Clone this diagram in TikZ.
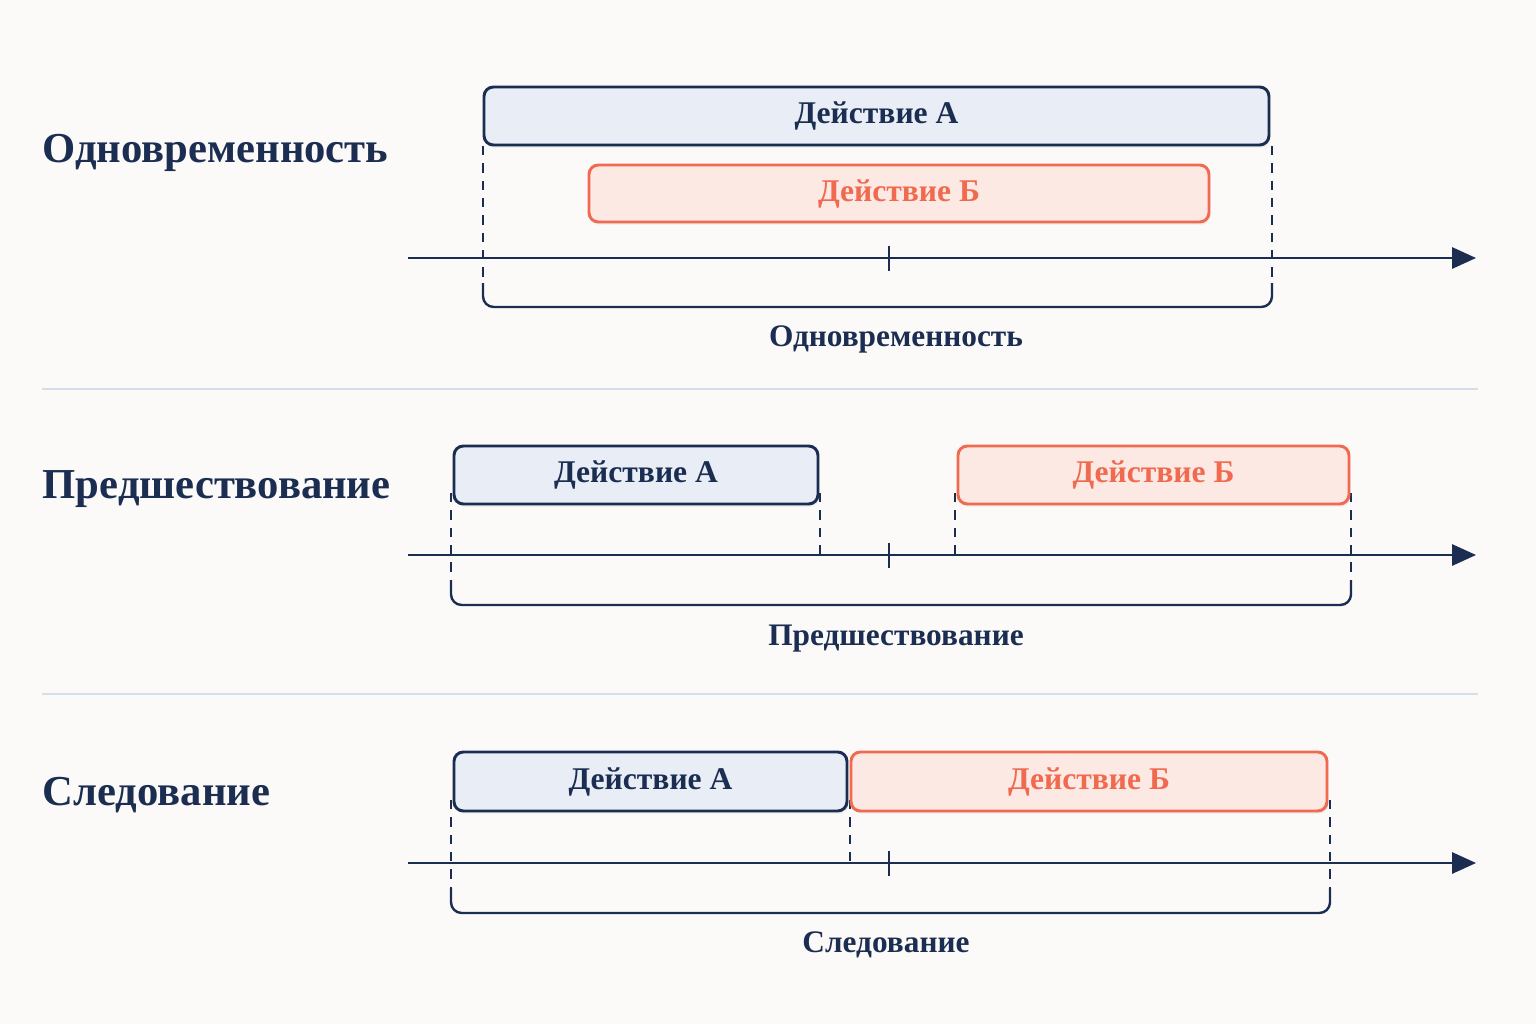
\documentclass[tikz,border=0pt]{standalone}
\usepackage{fontspec}
\setmainfont{Liberation Serif}
\usetikzlibrary{arrows.meta,shadows}
\definecolor{navy}{HTML}{1B2E52}
\definecolor{afill}{HTML}{E9EDF5}
\definecolor{orng}{HTML}{F06A50}
\definecolor{bfill}{HTML}{FDE9E3}
\definecolor{bg}{HTML}{FBFAF8}
\definecolor{sep}{HTML}{D5DEEA}
\begin{document}
\begin{tikzpicture}[x=0.75pt,y=-0.75pt,
 bx/.style 2 args={minimum width={(#1-2)*0.75pt},minimum height={(#2-2)*0.75pt},inner sep=0pt,outer sep=0pt},
 boxA/.style={draw=navy,fill=afill,line width=2.2pt,rounded corners=7pt,text=navy,font=\fontsize{23.7}{26}\selectfont\bfseries,drop shadow={opacity=0.12,shadow xshift=1pt,shadow yshift=-2pt}},
 boxB/.style={draw=orng,fill=bfill,line width=2.2pt,rounded corners=7pt,text=orng,font=\fontsize{23.7}{26}\selectfont\bfseries,drop shadow={opacity=0.12,shadow xshift=1pt,shadow yshift=-2pt}},
 title/.style={anchor=west,text=navy,font=\fontsize{32}{35}\selectfont\bfseries},
 lab/.style={text=navy,font=\fontsize{23.5}{26}\selectfont\bfseries},
 axis/.style={draw=navy,line width=1.6pt,-{Triangle[length=18pt,width=16pt]}},
 tick/.style={draw=navy,line width=1.6pt},
 dsh/.style={draw=navy,line width=1.4pt,dash pattern=on 7pt off 6pt},
 brace/.style={draw=navy,line width=1.8pt,rounded corners=8pt}]
\fill[bg] (0,0) rectangle (1536,1024);
\useasboundingbox (0,0) rectangle (1536,1024);
\draw[sep,line width=1.2pt] (42,389) -- (1478,389);
\draw[sep,line width=1.2pt] (42,694) -- (1478,694);
% Section 1
\node[title] (t1) at (38,153) {Одновременность};
\coordinate (s1) at (408,258); \coordinate (e1) at (1476,258);
\draw[axis] (s1) -- (e1);
\coordinate (k1) at (889,246); \coordinate (k1b) at (889,271);
\draw[tick] (k1) -- (k1b);
\draw[dsh] (483,146) -- (483,283);
\draw[dsh] (1272,146) -- (1272,283);
\draw[brace] (483,283) -- (483,307) -- (1272,307) -- (1272,283);
\node[boxB,bx={622}{59}] (b1) at (899,193.5) {Действие Б};
\node[boxA,bx={787}{60}] (a1) at (876.5,116) {Действие А};
\node[lab] (l1) at (896,339) {Одновременность};
% Section 2
\node[title] (t2) at (38,489) {Предшествование};
\coordinate (s2) at (408,555); \coordinate (e2) at (1476,555);
\draw[axis] (s2) -- (e2);
\draw[tick] (889,543) -- (889,568);
\draw[dsh] (451,493) -- (451,580);
\draw[dsh] (820,493) -- (820,555);
\draw[dsh] (955,493) -- (955,555);
\draw[dsh] (1351,493) -- (1351,580);
\draw[brace] (451,580) -- (451,605) -- (1351,605) -- (1351,580);
\node[boxA,bx={366}{60}] (a2) at (636,475) {Действие А};
\node[boxB,bx={393}{60}] (b2) at (1153.5,475) {Действие Б};
\node[lab] (l2) at (896,639) {Предшествование};
% Section 3
\node[title] (t3) at (38,795) {Следование};
\coordinate (s3) at (408,863); \coordinate (e3) at (1476,863);
\draw[axis] (s3) -- (e3);
\draw[tick] (889,851) -- (889,876);
\draw[dsh] (451,800) -- (451,888);
\draw[dsh] (850,800) -- (850,863);
\draw[dsh] (1330,800) -- (1330,888);
\draw[brace] (451,888) -- (451,913) -- (1330,913) -- (1330,888);
\node[boxA,bx={395}{61}] (a3) at (650.5,781.5) {Действие А};
\node[boxB,bx={478}{61}] (b3) at (1089,781.5) {Действие Б};
\node[lab] (l3) at (886,945) {Следование};
\end{tikzpicture}
\end{document}
